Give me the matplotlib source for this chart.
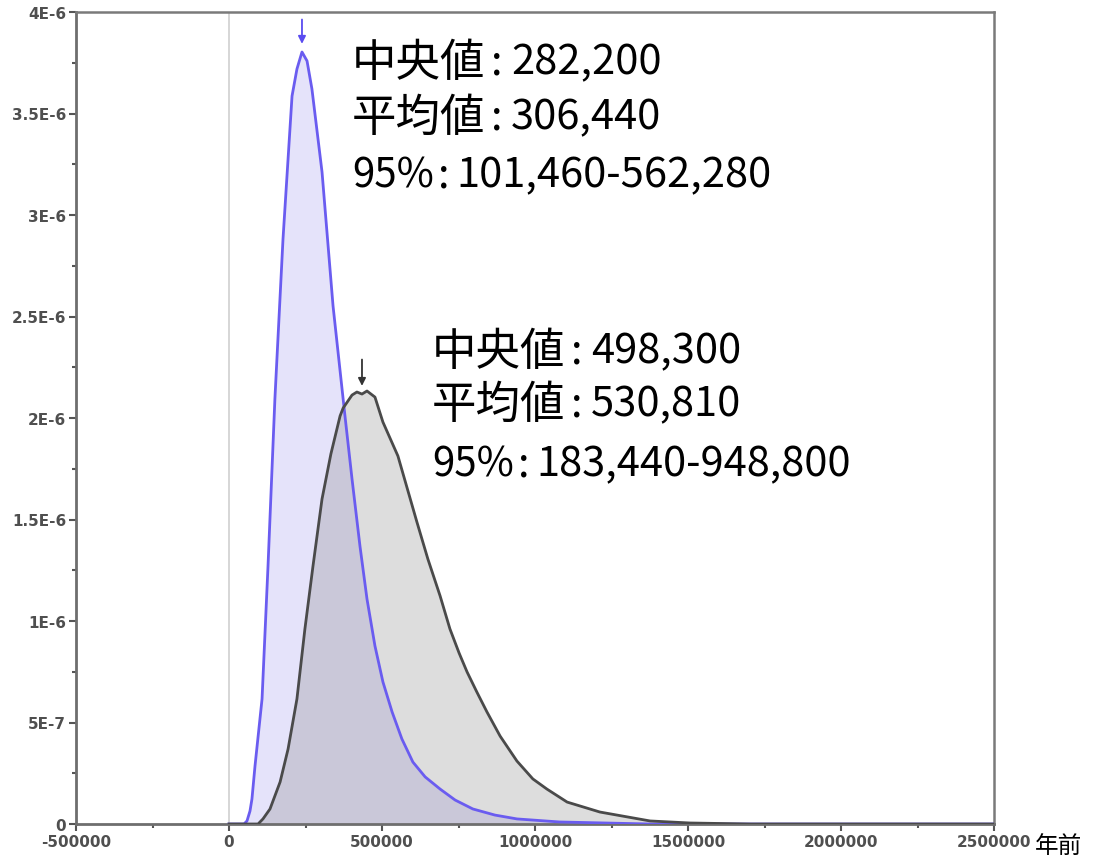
import matplotlib
matplotlib.use("Agg")
import matplotlib.pyplot as plt
from matplotlib.ticker import MultipleLocator

plt.rcParams['font.family'] = ['Noto Sans CJK JP', 'DejaVu Sans']

# Posterior density of divergence time (years before present), first estimate
blue_years = [0, 49000, 58800, 68600, 75000, 85000, 108000, 127500, 150000,
              176500, 206000, 222000, 238500, 255000, 271000, 304000, 340000,
              379000, 402000, 428000, 451000, 477000, 503000, 533000, 565000,
              601000, 641000, 690000, 739000, 797000, 869000, 941000, 1080000,
              1376000, 2500000]
blue_density = [0, 0, 0.015e-6, 0.064e-6, 0.123e-6, 0.286e-6, 0.616e-6,
                1.271e-6, 2.094e-6, 2.882e-6, 3.586e-6, 3.719e-6, 3.803e-6,
                3.759e-6, 3.621e-6, 3.212e-6, 2.552e-6, 2.010e-6, 1.700e-6,
                1.369e-6, 1.108e-6, 0.877e-6, 0.700e-6, 0.552e-6, 0.419e-6,
                0.305e-6, 0.232e-6, 0.172e-6, 0.118e-6, 0.074e-6, 0.044e-6,
                0.025e-6, 0.010e-6, 0, 0]

# Posterior density, second estimate
gray_years = [0, 95000, 111000, 134000, 167000, 193000, 222000, 248000, 274500,
              304000, 333000, 363000, 373000, 402000, 418000, 434600, 451000,
              477000, 503000, 552000, 614000, 650000, 690000, 722000, 752000,
              778000, 810000, 843000, 886000, 941000, 993000, 1039000, 1105000,
              1212000, 1376000, 1506000, 1703000, 2500000]
gray_density = [0, 0, 0.025e-6, 0.074e-6, 0.207e-6, 0.369e-6, 0.616e-6,
                0.960e-6, 1.271e-6, 1.601e-6, 1.823e-6, 2.010e-6, 2.049e-6,
                2.113e-6, 2.128e-6, 2.118e-6, 2.133e-6, 2.103e-6, 1.980e-6,
                1.813e-6, 1.488e-6, 1.305e-6, 1.123e-6, 0.961e-6, 0.842e-6,
                0.749e-6, 0.650e-6, 0.552e-6, 0.433e-6, 0.310e-6, 0.222e-6,
                0.172e-6, 0.108e-6, 0.059e-6, 0.015e-6, 0.005e-6, 0, 0]

# Peak markers (mode of each distribution)
blue_peak = (238500, 3.803e-6)
gray_peak = (434600, 2.118e-6)

# Summary statistics
stat_names = ["中央値", "平均値", "95%"]
blue_values = ["282,200", "306,440", "101,460-562,280"]
gray_values = ["498,300", "530,810", "183,440-948,800"]

y_ticks = [0, 5e-7, 1e-6, 1.5e-6, 2e-6, 2.5e-6, 3e-6, 3.5e-6, 4e-6]
y_labels = ["0", "5E-7", "1E-6", "1.5E-6", "2E-6", "2.5E-6", "3E-6", "3.5E-6", "4E-6"]
x_ticks = [-500000, 0, 500000, 1000000, 1500000, 2000000, 2500000]
x_labels = [str(v) for v in x_ticks]

W, H = 1093, 862
fig = plt.figure(figsize=(W / 100, H / 100), dpi=100)
ax = fig.add_axes([76 / W, 1 - 825 / H, (994 - 76) / W, (825 - 13) / H])

blue_line = "#6A5CF0"
blue_fill = "#E5E3FA"
gray_line = "#4A4A4A"

ax.axvline(0, color="#CFCFCF", lw=1.2, zorder=0.5)
ax.fill_between(blue_years, blue_density, color=blue_fill, lw=0, zorder=1)
ax.fill_between(gray_years, gray_density, color="#7A7A7A", alpha=0.25, lw=0, zorder=2)
ax.plot(blue_years, blue_density, color=blue_line, lw=2, zorder=3)
ax.plot(gray_years, gray_density, color=gray_line, lw=2, zorder=3)

ax.annotate("", xy=(blue_peak[0], blue_peak[1] + 0.04e-6),
            xytext=(blue_peak[0], blue_peak[1] + 0.16e-6),
            arrowprops=dict(arrowstyle="-|>", color="#5A4CF0", lw=1.3,
                            mutation_scale=11, shrinkA=0, shrinkB=0), zorder=4)
ax.annotate("", xy=(gray_peak[0], gray_peak[1] + 0.04e-6),
            xytext=(gray_peak[0], gray_peak[1] + 0.17e-6),
            arrowprops=dict(arrowstyle="-|>", color="#333333", lw=1.3,
                            mutation_scale=11, shrinkA=0, shrinkB=0), zorder=4)

ax.set_xlim(-500000, 2500000)
ax.set_ylim(0, 4e-6)
ax.set_xticks(x_ticks)
ax.set_xticklabels(x_labels)
ax.set_yticks(y_ticks)
ax.set_yticklabels(y_labels)
ax.xaxis.set_minor_locator(MultipleLocator(250000))
ax.yaxis.set_minor_locator(MultipleLocator(2.5e-7))

for side in ["left", "bottom"]:
    ax.spines[side].set_color("#6E6E6E")
    ax.spines[side].set_linewidth(2)
for side in ["top", "right"]:
    ax.spines[side].set_color("#7A7A7A")
    ax.spines[side].set_linewidth(1.8)

ax.tick_params(which="major", direction="out", length=5, width=1.5, color="#555555",
               labelsize=11, labelcolor="#4F4F4F", pad=2,
               labelfontfamily="DejaVu Sans")
ax.tick_params(which="minor", direction="out", length=3, width=1.5, color="#555555")
for lab in ax.get_xticklabels() + ax.get_yticklabels():
    lab.set_fontweight("bold")


def stat_block(x0, rows_y, values):
    """Write the three summary lines: name, colon, value."""
    for i, (name, val) in enumerate(zip(stat_names, values)):
        y = 1 - rows_y[i] / H
        if i < 2:
            name_size, colon_dx, val_dx = 32, 145, 159
        else:
            name_size, colon_dx, val_dx = 29, 92, 104
        fig.text(x0 / W, y, name, fontsize=name_size, ha="left", va="center")
        fig.text((x0 + colon_dx) / W, y, ":", fontsize=30, ha="center", va="center")
        fig.text((x0 + val_dx) / W, y, val, fontsize=30, ha="left", va="center")


stat_block(352, [63, 118, 176], blue_values)
stat_block(432, [352, 405, 465], gray_values)

fig.text(1035 / W, 1 - 846 / H, "年前", fontsize=17, ha="left", va="center", color="black")

fig.savefig("out.png", dpi=100)
